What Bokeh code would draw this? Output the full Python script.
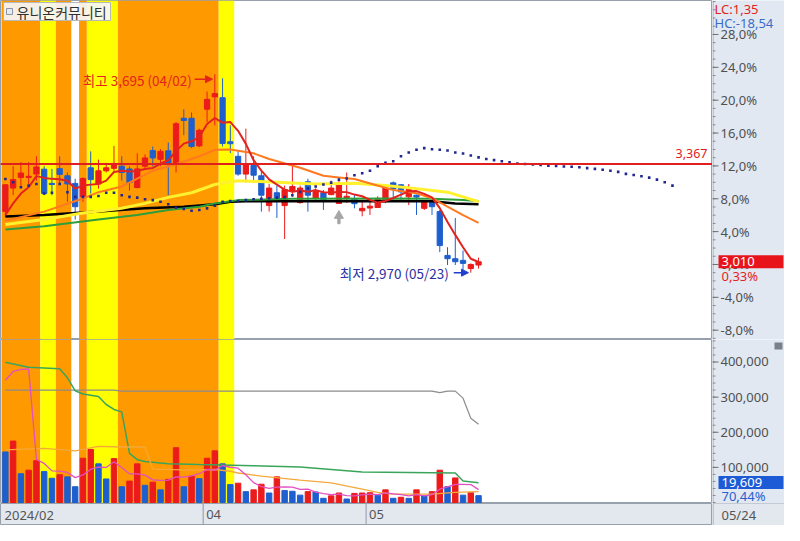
import numpy as np
from bokeh.plotting import figure
from bokeh.layouts import column, row
from bokeh.models import Range1d, Label, Arrow, NormalHead, Span, BoxAnnotation, ColumnDataSource
from bokeh.embed import file_html
from bokeh.resources import INLINE
from bokeh.core.properties import value

# ---------------- data ----------------
stock_name = "유니온커뮤니티"
current_date = "05/24"

dates = ["02/22", "02/23", "02/26", "02/27", "02/28", "02/29",
         "03/04", "03/05", "03/06", "03/07", "03/08", "03/11", "03/12", "03/13", "03/14", "03/15",
         "03/18", "03/19", "03/20", "03/21", "03/22", "03/25", "03/26", "03/27", "03/28", "03/29",
         "04/01", "04/02", "04/03", "04/04", "04/05", "04/08", "04/09", "04/11", "04/12",
         "04/15", "04/16", "04/17", "04/18", "04/19", "04/22", "04/23", "04/24", "04/25", "04/26",
         "04/29", "04/30",
         "05/02", "05/03", "05/07", "05/08", "05/09", "05/10", "05/13", "05/14", "05/16", "05/17",
         "05/20", "05/21", "05/22", "05/23", "05/24"]

opens = [3194, 3279, 3318, 3318, 3330, 3348, 3296, 3350, 3324, 3296,
         3247, 3353, 3294, 3342, 3351, 3359, 3349, 3281, 3359, 3416,
         3384, 3415, 3365, 3534, 3534, 3433, 3567, 3612, 3609, 3448,
         3395, 3330, 3362, 3324, 3215, 3262, 3215, 3270, 3226, 3302,
         3243, 3262, 3255, 3223, 3243, 3240, 3196, 3206, 3208, 3229,
         3298, 3291, 3247, 3253, 3205, 3231, 3193, 3033, 3021, 3015,
         2985, 2998]
highs = [3292, 3359, 3374, 3374, 3395, 3359, 3349, 3395, 3336, 3313,
         3318, 3413, 3383, 3371, 3433, 3395, 3359, 3406, 3402, 3431,
         3421, 3445, 3520, 3567, 3555, 3496, 3632, 3695, 3680, 3508,
         3413, 3496, 3395, 3342, 3294, 3288, 3288, 3362, 3288, 3313,
         3278, 3272, 3306, 3306, 3336, 3253, 3229, 3235, 3249, 3282,
         3303, 3294, 3294, 3255, 3235, 3235, 3199, 3063, 3170, 3051,
         3004, 3025]
lows = [3175, 3253, 3282, 3294, 3306, 3253, 3253, 3295, 3229, 3164,
        3229, 3259, 3277, 3336, 3342, 3306, 3270, 3278, 3349, 3359,
        3359, 3253, 3336, 3472, 3425, 3428, 3520, 3508, 3431, 3407,
        3324, 3300, 3300, 3193, 3193, 3170, 3093, 3247, 3222, 3193,
        3229, 3199, 3253, 3222, 3225, 3205, 3176, 3181, 3206, 3224,
        3229, 3229, 3217, 3181, 3199, 3181, 3045, 2998, 2998, 2980,
        2970, 2985]
closes = [3291, 3310, 3334, 3322, 3356, 3259, 3292, 3329, 3294, 3211,
          3314, 3310, 3342, 3353, 3369, 3336, 3299, 3349, 3389, 3389,
          3413, 3365, 3514, 3526, 3431, 3490, 3603, 3624, 3442, 3441,
          3330, 3365, 3326, 3253, 3279, 3235, 3274, 3285, 3279, 3253,
          3267, 3235, 3279, 3291, 3249, 3222, 3205, 3213, 3241, 3279,
          3276, 3265, 3274, 3246, 3229, 3211, 3069, 3021, 3010, 3004,
          3000, 3010]
prior_closes = [3100, 3154, 3207, 3153]          # four sessions before the first candle

volumes = [144000, 175000, 82000, 92000, 119000, 88000, 69000, 79000, 73000, 45000,
           126000, 151000, 110000, 67000, 125000, 45000, 61000, 110000, 49000, 58000,
           36000, 66000, 156000, 45000, 75000, 68000, 126000, 147000, 110000, 51000,
           55000, 31000, 36000, 52000, 27000, 73000, 34000, 32000, 21000, 31000,
           30000, 12000, 19000, 27000, 10000, 26000, 27000, 28000, 21000, 36000,
           12000, 15000, 11800, 36000, 19000, 31000, 92000, 45000, 70000, 21000,
           27838, 19609]
prior_volumes = [50000, 52000, 87000, 1407000]

# moving averages (index, value)
ma10_idx = [0, 5, 10, 12, 15, 19, 22, 25, 27, 29, 32, 34, 38, 41, 43, 45, 50, 53, 55, 57, 59, 61]
ma10_val = [3160, 3193, 3241, 3264, 3285, 3342, 3366, 3395, 3419, 3420, 3406, 3385, 3353, 3324,
            3318, 3312, 3272, 3260, 3242, 3211, 3180, 3152]
ma20_idx = [0, 5, 10, 15, 18, 21, 24, 27, 30, 35, 40, 45, 49, 53, 57, 59, 61]
ma20_val = [3146, 3164, 3188, 3205, 3223, 3245, 3262, 3292, 3306, 3300, 3294, 3297, 3288, 3277,
            3264, 3247, 3229]
ma60_idx = [0, 5, 12, 17, 21, 25, 27, 30, 37, 50, 55, 59, 61]
ma60_val = [3128, 3140, 3164, 3181, 3199, 3211, 3223, 3235, 3240, 3241, 3240, 3235, 3232]
ma120_idx = [0, 5, 12, 18, 23, 27, 29, 31, 55, 58, 61]
ma120_val = [3175, 3181, 3193, 3205, 3211, 3220, 3229, 3231, 3231, 3223, 3220]

# leading span (dotted), extends 25 sessions beyond the last candle
span_val = [3312, 3300, 3282, 3288, 3294, 3259, 3262, 3294, 3264, 3247,
            3247, 3247, 3250, 3262, 3262, 3253, 3247, 3244, 3238, 3235,
            3229, 3220, 3207, 3203, 3196, 3199, 3205, 3215, 3229, 3232,
            3232, 3235, 3238, 3240, 3242, 3244, 3246, 3253, 3265, 3278,
            3285, 3292, 3299, 3310, 3314, 3326, 3333, 3342, 3359, 3371,
            3377, 3395, 3409, 3419, 3425, 3421, 3419, 3416, 3409, 3405,
            3398, 3391, 3385, 3381, 3377, 3373, 3369, 3367, 3365, 3363,
            3361, 3360, 3358, 3357, 3355, 3352, 3349, 3346, 3342, 3338,
            3331, 3327, 3322, 3317, 3310, 3300, 3288]

vma20_idx = [0, 5, 9, 12, 15, 18, 19, 24, 27, 29, 30, 33, 38, 42, 46, 48, 50, 55, 58, 61]
vma20_val = [150000, 154000, 147000, 160000, 158000, 158000, 95000, 92000, 94000, 89000, 84000,
             75000, 64000, 56000, 38000, 29000, 24000, 24000, 29000, 31000]
vma60_idx = [0, 3, 7, 8, 9, 10, 12, 13, 14, 15, 16, 17, 18, 21, 25, 32, 38, 42, 46, 58, 59, 61]
vma60_val = [399000, 385000, 381000, 355000, 318000, 309000, 302000, 279000, 265000, 258000,
             140000, 122000, 117000, 110000, 108000, 105000, 101000, 94000, 87000, 84000,
             61000, 56000]
vma120_idx = [0, 14, 15, 55, 56, 57, 58, 59, 60, 61]
vma120_val = [320000, 320000, 317000, 317000, 313000, 317000, 317000, 297000, 240000, 223000]

# highlighted periods (candle index ranges)
band_start = [0, 5, 7, 10, 11, 15, 28]
band_end = [4, 6, 8, 10, 14, 27, 29]
band_kind = ["orange", "yellow", "orange", "orange", "yellow", "orange", "yellow"]

ref_price = 3367
signal_idx = [43]
signal_price = [3178]

month_labels = ["2024/02", "04", "05"]
month_idx = [0, 26, 47]

pct_ticks = [-8, -4, 0, 4, 8, 12, 16, 20, 24, 28]
vol_ticks = [100000, 200000, 300000, 400000]

# ---------------- styling ----------------
W_FRAME, W_RIGHT = 712, 72
H_PRICE, H_VOL, H_DATE = 339, 164, 22
RED = "#ec1b1b"
BLUE = "#1e5fcf"
PANEL = "#e1e8f2"
DATEBG = "#e3e8ef"
AXIS = "#97a1ad"
TXT = "#505050"
BAND = {"orange": "#ff9900", "yellow": "#ffff00"}
FONT = "Noto Sans"
KFONT = "Noto Sans CJK KR"

n = len(closes)
idx = np.arange(n)
xr = Range1d(-0.63, 91.16)
price_rng = Range1d(2726, 3964)
vol_rng = Range1d(-2800, 464000)
ppx = (price_rng.end - price_rng.start) / H_PRICE   # price units per pixel
vpx = (vol_rng.end - vol_rng.start) / H_VOL
xpx = (xr.end - xr.start) / W_FRAME

base = closes[-2]
last = closes[-1]
hmax = max(highs); imax = highs.index(hmax)
lmin = min(lows); imin = lows.index(lmin)


def fmt(v, d=2):
    return f"{v:.{d}f}".replace(".", ",")


def main_fig(h, yr, bg="white"):
    f = figure(frame_width=W_FRAME, frame_height=h, x_range=xr, y_range=yr,
               output_backend="svg", toolbar_location=None, x_axis_location=None,
               y_axis_location=None, min_border=0, background_fill_color=bg,
               border_fill_color=bg, outline_line_color=AXIS)
    f.xgrid.visible = False
    f.ygrid.visible = False
    return f


def side_fig(h, yr, bg=PANEL):
    f = figure(frame_width=W_RIGHT, frame_height=h, x_range=Range1d(0, W_RIGHT), y_range=yr,
               output_backend="svg", toolbar_location=None, x_axis_location=None,
               y_axis_location=None, min_border=0, background_fill_color=bg,
               border_fill_color=bg, outline_line_color=None)
    f.xgrid.visible = False
    f.ygrid.visible = False
    return f


def txt(f, x, y, t, color=TXT, size="13px", font=FONT, align="left"):
    f.text(x=x, y=y, text=t, text_color=color, text_font=value(font), text_font_size=size,
           text_baseline="middle", text_align=align)


def add_bands(f):
    for s, e, k in zip(band_start, band_end, band_kind):
        f.add_layout(BoxAnnotation(left=s - 0.5, right=e + 0.5, fill_color=BAND[k],
                                   fill_alpha=1, line_alpha=0, level="underlay"))


def axis_panel(f, rng, ticks, labels, minor):
    f.segment(x0=[0.5], y0=[rng.start], x1=[0.5], y1=[rng.end], line_color=AXIS, line_width=1)
    f.segment(x0=0, y0=minor, x1=3, y1=minor, line_color="#8a8a8a", line_width=1)
    f.segment(x0=0, y0=ticks, x1=6, y1=ticks, line_color="#707070", line_width=1)
    txt(f, 8, ticks, labels)


# ---------------- price panel ----------------
p = main_fig(H_PRICE, price_rng)
add_bands(p)
p.add_layout(Span(location=ref_price, dimension="width", line_color="#e0201e", line_width=2))

col = [RED if c >= o else BLUE for o, c in zip(opens, closes)]
csrc = ColumnDataSource(dict(x=idx, top=np.maximum(opens, closes), bottom=np.minimum(opens, closes),
                             hi=highs, lo=lows, color=col))
p.segment("x", "hi", "x", "lo", source=csrc, line_color="color", line_width=1)
p.vbar(x="x", top="top", bottom="bottom", width=0.68, source=csrc, fill_color="color",
       line_color="color", line_width=1)

allc = np.array(prior_closes + closes, dtype=float)
ma5 = np.convolve(allc, np.ones(5) / 5, mode="valid")
p.line(ma120_idx, ma120_val, line_color="black", line_width=2.5)
p.line(ma60_idx, ma60_val, line_color="#2e9e3a", line_width=2)
p.line(ma20_idx, ma20_val, line_color="#fff12e", line_width=3)
p.line(ma10_idx, ma10_val, line_color="#ff7a1e", line_width=2)
p.line(idx, ma5, line_color="#e2231f", line_width=2)
p.scatter(np.arange(len(span_val)), span_val, marker="square", size=2.6, color="#202890",
          line_width=0)

# signal arrow
p.vbar(x=signal_idx, top=[v - 2 * ppx for v in signal_price],
       bottom=[v - 8 * ppx for v in signal_price], width=0.3, color="#a6a6a6")
p.scatter(signal_idx, signal_price, marker="triangle", size=9, color="#a6a6a6")

# high / low annotations
p.add_layout(Label(x=imax, y=hmax, x_offset=-23, y_offset=-6, text_align="right",
                   text_baseline="middle", text=f"최고 {hmax:,} ({dates[imax]})",
                   text_color="#e4231c", text_font=KFONT, text_font_size="13.5px"))
p.add_layout(Arrow(x_start=imax - 2.6, x_end=imax - 0.3, y_start=hmax - 5 * ppx, y_end=hmax - 5 * ppx,
                   line_color="#e4231c", line_width=1.5,
                   end=NormalHead(size=7, fill_color="#e4231c", line_color="#e4231c")))
p.add_layout(Label(x=imin, y=lmin, x_offset=-22, text_align="right", text_baseline="middle",
                   text=f"최저 {lmin:,} ({dates[imin]})", text_color="#2b2fa0",
                   text_font=KFONT, text_font_size="13.5px"))
p.add_layout(Arrow(x_start=imin - 2.2, x_end=imin - 0.3, y_start=lmin, y_end=lmin,
                   line_color="#1f3fd0", line_width=1.5,
                   end=NormalHead(size=7, fill_color="#1f3fd0", line_color="#1f3fd0")))
txt(p, [xr.start + 707 * xpx], [ref_price + 10 * ppx], [f"{ref_price:,}"], color="#e0201e",
    align="right", size="12.5px")

# title box (pixel offsets from the top-left corner of the panel)
X = lambda px: xr.start + px * xpx
Yp = lambda py: price_rng.end - py * ppx
p.quad(left=[X(3)], right=[X(110)], bottom=[Yp(20)], top=[Yp(2)], fill_color="#f6f6f6",
       fill_alpha=0.92, line_color="#b8b8b8")
p.quad(left=[X(6)], right=[X(12)], bottom=[Yp(14)], top=[Yp(8)], fill_color="#e8ecf2",
       line_color="#8a96a8")
txt(p, [X(16)], [Yp(11)], [stock_name], color="#303030", size="14px", font=KFONT)

# ---------------- price axis panel ----------------
pr = side_fig(H_PRICE, price_rng)
ptick_vals = [base * (1 + t / 100) for t in pct_ticks]
axis_panel(pr, price_rng, ptick_vals, [fmt(t, 1) + "%" for t in pct_ticks],
           [base * (1 + k / 100) for k in range(-9, 33)])
lc = (last - lmin) / lmin * 100
hc = (last - hmax) / hmax * 100
txt(pr, [2], [Yp(8)], [f"LC:{fmt(lc)}"], color="#e4231c")
txt(pr, [2], [Yp(22)], [f"HC:{fmt(hc)}"], color="#3a6cc8")
pr.quad(left=[6], right=[71], bottom=[last - 6.5 * ppx], top=[last + 6.5 * ppx],
        fill_color="#e8141c", line_color=None)
txt(pr, [9], [last], [f"{last:,}"], color="white")
txt(pr, [9], [last - 14 * ppx], [f"{fmt((last / base - 1) * 100)}%"], color="#e4231c")

# ---------------- volume panel ----------------
v = main_fig(H_VOL, vol_rng)
add_bands(v)
vcol = [BLUE] + [RED if volumes[i] > volumes[i - 1] else BLUE for i in range(1, n)]
v.vbar(x=idx, top=volumes, bottom=0, width=0.7, color=vcol)
allv = np.array(prior_volumes + volumes, dtype=float)
vma5 = np.convolve(allv, np.ones(5) / 5, mode="valid")
v.line(vma120_idx, vma120_val, line_color="#8c8c8c", line_width=1.2)
v.line(vma60_idx, vma60_val, line_color="#3aa55a", line_width=1.5)
v.line(vma20_idx, vma20_val, line_color="#f4a93a", line_width=1.3)
v.line(idx, vma5, line_color="#e24fc4", line_width=1.3)

vr = side_fig(H_VOL, vol_rng)
axis_panel(vr, vol_rng, vol_ticks, [f"{t:,}" for t in vol_ticks], list(range(0, 460001, 20000)))
Yv = lambda py: vol_rng.start + py * vpx     # pixels from the bottom
vr.quad(left=[6], right=[71], bottom=[Yv(14.5)], top=[Yv(27.5)], fill_color="#1d5bd6",
        line_color=None)
txt(vr, [9], [Yv(21)], [f"{volumes[-1]:,}"], color="white")
txt(vr, [9], [Yv(8)], [f"{fmt(volumes[-1] / volumes[-2] * 100)}%"], color="#2a60d0")
vr.quad(left=[62], right=[70], bottom=[vol_rng.end - 10 * vpx], top=[vol_rng.end - 3 * vpx],
        fill_color="#7a808a", line_color=None)

# ---------------- date strip ----------------
d = main_fig(H_DATE, Range1d(0, 1), bg=DATEBG)
mx = [m - 0.5 for m in month_idx]
d.segment(mx[1:], [0] * (len(mx) - 1), mx[1:], [1] * (len(mx) - 1), line_color="#8e98a5", line_width=1)
d.text(x=mx, y=[0.5] * len(mx), text=month_labels, x_offset=3, text_baseline="middle",
       text_color="#555555", text_font=value(FONT), text_font_size="13px")
dr = side_fig(H_DATE, Range1d(0, 1), bg=DATEBG)
dr.segment(x0=[0.5], y0=[0], x1=[0.5], y1=[1], line_color=AXIS)
dr.segment(x0=[0], y0=[1], x1=[W_RIGHT], y1=[1], line_color=AXIS)
txt(dr, [9], [0.5], [current_date], color="#555555", size="13px")

layout = row(column(p, v, d, spacing=0), column(pr, vr, dr, spacing=0), spacing=0)
open("out.html", "w").write(file_html(layout, INLINE))
